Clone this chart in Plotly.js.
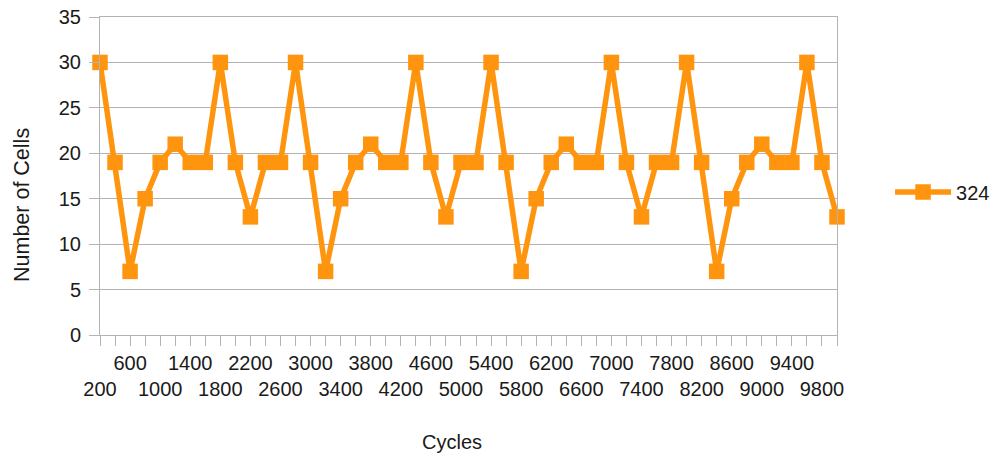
<!DOCTYPE html>
<html>
<head>
<meta charset="utf-8">
<script src="https://cdn.plot.ly/plotly-3.0.1.min.js"></script>
<style>html,body{margin:0;padding:0;background:#fff;}#chart{width:997px;height:453px;}</style>
</head>
<body>
<div id="chart"></div>
<script>
const seriesName = "324";
const cycles = [200,400,600,800,1000,1200,1400,1600,1800,2000,2200,2400,2600,2800,3000,3200,3400,3600,3800,4000,4200,4400,4600,4800,5000,5200,5400,5600,5800,6000,6200,6400,6600,6800,7000,7200,7400,7600,7800,8000,8200,8400,8600,8800,9000,9200,9400,9600,9800,10000];
const cells = [30,19,7,15,19,21,19,19,30,19,13,19,19,30,19,7,15,19,21,19,19,30,19,13,19,19,30,19,7,15,19,21,19,19,30,19,13,19,19,30,19,7,15,19,21,19,19,30,19,13];
const topRowLabels = ["600","1400","2200","3000","3800","4600","5400","6200","7000","7800","8600","9400"];
const bottomRowLabels = ["200","1000","1800","2600","3400","4200","5000","5800","6600","7400","8200","9000","9800"];
const yTicks = [0,5,10,15,20,25,30,35];

// Every category gets a tick mark; labels alternate between two rows
const tickText = cycles.map(c => {
  const s = String(c);
  if (bottomRowLabels.includes(s)) return "&nbsp;<br>" + s;
  if (topRowLabels.includes(s)) return s;
  return "";
});

const color = "#ff950e";
const font = {family: "Liberation Sans, Arial, sans-serif", size: 20, color: "#1a1a1a"};

const trace = {
  x: cycles, y: cells, name: seriesName, type: "scatter", mode: "lines+markers",
  cliponaxis: false,
  line: {color: color, width: 5.5},
  marker: {symbol: "square", size: 15.5, color: color}
};

const layout = {
  width: 997, height: 453,
  margin: {l: 100, r: 160, t: 17, b: 118, autoexpand: false},
  paper_bgcolor: "#fff", plot_bgcolor: "#fff",
  font: font,
  showlegend: true,
  legend: {x: 1.072, xanchor: "left", y: 0.45, yanchor: "middle", itemwidth: 56, font: font, bgcolor: "rgba(0,0,0,0)"},
  xaxis: {
    type: "linear", range: [200, 10000],
    tickmode: "array", tickvals: cycles, ticktext: tickText,
    ticks: "outside", ticklen: 10, tickcolor: "#b3b3b3", tickwidth: 1,
    showgrid: false, zeroline: false,
    showline: true, linecolor: "#b3b3b3", linewidth: 1, mirror: true,
    tickfont: font, tickangle: 0
  },
  yaxis: {
    range: [0, 35], tickmode: "array", tickvals: yTicks,
    ticks: "outside", ticklen: 10, tickcolor: "#b3b3b3", tickwidth: 1,
    showgrid: true, gridcolor: "#b3b3b3", gridwidth: 1, zeroline: false,
    showline: true, linecolor: "#b3b3b3", linewidth: 1, mirror: true,
    tickfont: font, ticklabelstandoff: 4
  },
  annotations: [
    {text: "Cycles", xref: "paper", yref: "paper", x: (452-100)/737, y: -(442-335)/318, xanchor: "center", yanchor: "middle", showarrow: false, font: font},
    {text: "Number of Cells", xref: "paper", yref: "paper", x: -(100-22)/737, y: (335-205)/318, xanchor: "center", yanchor: "middle", textangle: -90, showarrow: false, font: Object.assign({}, font, {size: 21.5})}
  ]
};

Plotly.newPlot("chart", [trace], layout, {displayModeBar: false, staticPlot: true});
</script>
</body>
</html>
